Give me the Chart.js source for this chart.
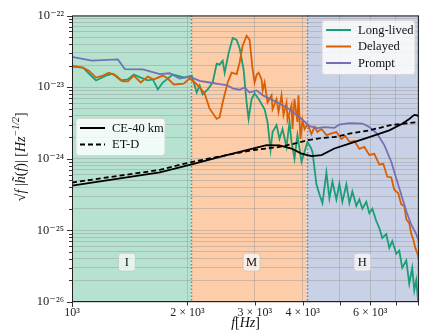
<!DOCTYPE html>
<html>
<head>
<meta charset="utf-8">
<script src="https://cdn.jsdelivr.net/npm/chart.js@4.4.1/dist/chart.umd.min.js"></script>
<style>
  html, body { margin: 0; padding: 0; background: #fff; }
</style>
</head>
<body>
<canvas id="asdChart" width="422" height="331"></canvas>
<script>
// values: frequency [Hz] and sqrt(f)|h(f)| [Hz^-1/2]
const longFreq = [
  1000, 1068, 1114, 1155, 1226, 1279, 1342, 1399,
  1450, 1512, 1577, 1625, 1675, 1726, 1832, 1969,
  2054, 2116, 2154, 2193, 2261, 2329, 2386, 2428,
  2473, 2503, 2564, 2627, 2690, 2738, 2805, 2856,
  2890, 2943, 2996, 3087, 3182, 3239, 3298, 3338,
  3419, 3480, 3544, 3630, 3696, 3741, 3808, 3877,
  3972, 4045, 4118, 4192, 4243, 4345, 4424, 4505,
  4614, 4698, 4783, 4899, 4988, 5078, 5202, 5297,
  5392, 5523, 5623, 5727, 5864, 5971, 6080, 6227,
  6340, 6455, 6611, 6732, 6854, 7022, 7148, 7278,
  7456, 7590, 7727, 7823, 7916, 8010, 8050
];
const longAmp = [
  1.93e-23, 1.87e-23, 1.50e-23, 1.24e-23, 1.45e-23, 1.54e-23, 1.24e-23, 1.28e-23,
  1.50e-23, 1.36e-23, 1.24e-23, 1.28e-23, 9.3e-24, 1.16e-23, 1.50e-23, 1.36e-23,
  1.45e-23, 8.4e-24, 1.05e-23, 7.9e-24, 9.3e-24, 1.16e-23, 2.13e-23, 2.06e-23,
  2.34e-23, 1.59e-23, 3.01e-23, 4.86e-23, 4.56e-23, 3.53e-23, 1.75e-23, 6.1e-24,
  3.6e-24, 6.8e-24, 8.2e-24, 6.5e-24, 4.9e-24, 3.25e-24, 1.33e-24, 2.36e-24,
  2.95e-24, 1.89e-24, 2.6e-24, 1.46e-24, 3.25e-24, 1.72e-24, 1.0e-24, 2.14e-24,
  9.1e-25, 1.25e-24, 1.72e-24, 1.46e-24, 1.25e-24, 4.4e-25, 3.2e-25, 2.4e-25,
  6.4e-25, 2.8e-25, 4.8e-25, 2.7e-25, 4.5e-25, 2.5e-25, 4.4e-25, 2.4e-25,
  3.5e-25, 2.2e-25, 2.7e-25, 2.0e-25, 2.5e-25, 1.74e-25, 2.0e-25, 1.35e-25,
  1.08e-25, 7.8e-26, 8.9e-26, 5.7e-26, 7.1e-26, 4.7e-26, 5.2e-26, 3.0e-26,
  3.8e-26, 1.8e-26, 3.0e-26, 1.45e-26, 2.0e-26, 1.0e-26, 1.7e-26
];

const delayedFreq = [
  1000, 1068, 1107, 1155, 1204, 1248, 1302, 1358,
  1399, 1450, 1512, 1577, 1635, 1726, 1778, 1843,
  1957, 2028, 2091, 2154, 2220, 2287, 2386, 2428,
  2473, 2549, 2610, 2690, 2738, 2788, 2856, 2907,
  2961, 2996, 3035, 3069, 3125, 3145, 3182, 3239,
  3318, 3338, 3419, 3460, 3523, 3565, 3630, 3652,
  3741, 3763, 3808, 3877, 3900, 3947, 3995, 4045,
  4118, 4217, 4295, 4372, 4478, 4614, 4783, 4899,
  5048, 5171, 5297, 5458, 5623, 5795, 5971, 6152,
  6340, 6494, 6651, 6813, 6936, 7105, 7235, 7366,
  7456, 7590, 7684, 7777, 7870, 7962, 8050
];
const delayedAmp = [
  1.99e-23, 1.87e-23, 1.70e-23, 1.36e-23, 1.45e-23, 1.59e-23, 1.45e-23, 1.20e-23,
  1.20e-23, 1.45e-23, 1.16e-23, 1.40e-23, 1.28e-23, 1.45e-23, 1.32e-23, 1.09e-23,
  1.12e-23, 1.32e-23, 1.16e-23, 9.9e-24, 8.1e-24, 5.0e-24, 3.6e-24, 3.8e-24,
  6.1e-24, 1.16e-23, 1.59e-23, 1.52e-23, 2.19e-23, 3.76e-23, 5.2e-23, 4.6e-23,
  1.77e-23, 1.16e-23, 1.50e-23, 1.59e-23, 1.28e-23, 9.0e-24, 1.16e-23, 6.1e-24,
  7.7e-24, 4.9e-24, 6.8e-24, 4.5e-24, 7.7e-24, 4.1e-24, 6.1e-24, 3.5e-24,
  5.6e-24, 2.6e-24, 6.8e-24, 3.25e-24, 7.7e-24, 1.89e-24, 3.46e-24, 2.6e-24,
  3.05e-24, 2.21e-24, 2.77e-24, 2.36e-24, 2.6e-24, 2.14e-24, 2.28e-24, 2.36e-24,
  1.89e-24, 2.08e-24, 1.72e-24, 1.77e-24, 1.37e-24, 1.46e-24, 1.13e-24, 1.17e-24,
  8.3e-25, 8.5e-25, 5.6e-25, 5.5e-25, 3.7e-25, 3.3e-25, 2.3e-25, 2.2e-25,
  1.43e-25, 1.26e-25, 8.9e-26, 7.5e-26, 5.7e-26, 4.9e-26, 3.8e-26
];

const promptFreq = [
  1000, 1126, 1318, 1374, 1531, 1695, 1799, 1910,
  2028, 2154, 2287, 2428, 2533, 2627, 2738, 2822,
  2907, 3032, 3145, 3278, 3480, 3696, 3854, 3995,
  4167, 4372, 4559, 4841, 4988, 5297, 5727, 5971,
  6264, 6533, 6813, 7022, 7235, 7456, 7684, 7916, 8050
];
const promptAmp = [
  2.65e-23, 2.34e-23, 2.44e-23, 1.78e-23, 1.77e-23, 1.52e-23, 1.56e-23, 1.32e-23,
  1.40e-23, 1.22e-23, 1.16e-23, 1.10e-23, 1.07e-23, 9.6e-24, 9.2e-24, 9.9e-24,
  8.4e-24, 9.0e-24, 7.7e-24, 6.9e-24, 5.9e-24, 4.9e-24, 4.1e-24, 3.5e-24,
  2.86e-24, 2.68e-24, 2.77e-24, 2.7e-24, 3.0e-24, 3.15e-24, 3.1e-24, 2.77e-24,
  2.22e-24, 1.55e-24, 9.1e-25, 5.3e-25, 3.15e-25, 1.85e-25, 1.2e-25, 8.9e-26, 6.9e-26
];

// detector sensitivity curves
const ceFreq = [1000, 1695, 2028, 2533, 2961, 3220, 3480, 3741, 3972, 4217,
  4478, 4841, 5297, 5971, 6732, 7278, 7590, 7823, 7962, 8050];
const ceAmp = [4.2e-25, 6.47e-25, 8.18e-25, 1.125e-24, 1.39e-24, 1.55e-24, 1.54e-24, 1.39e-24, 1.18e-24, 1.09e-24,
  1.125e-24, 1.39e-24, 1.63e-24, 2.01e-24, 2.49e-24, 3.08e-24, 3.6e-24, 4.1e-24, 4.05e-24, 3.8e-24];
const etFreq = [1000, 1695, 2028, 2533, 2961, 3480, 3808, 4118, 4478, 4841, 5297, 5971, 6732, 7278, 8050];
const etAmp = [4.66e-25, 6.98e-25, 8.89e-25, 1.125e-24, 1.32e-24, 1.46e-24, 1.63e-24, 1.81e-24,
  1.95e-24, 2.01e-24, 2.24e-24, 2.49e-24, 2.92e-24, 3.08e-24, 3.25e-24];

// frequency bands (edges in Hz)
const bandEdges = [1000, 2048, 4096, 8050];
const bandNames = ['I', 'M', 'H'];

// ticks
const xTickValues = [1000, 2000, 3000, 4000, 5000, 6000, 7000, 8000];
const xTickLabels = ['10³', '2 × 10³', '3 × 10³', '4 × 10³', '', '6 × 10³', '', ''];
const yMajorTicks = [1e-26, 1e-25, 1e-24, 1e-23, 1e-22];
const yMajorLabels = ['10⁻²⁶', '10⁻²⁵', '10⁻²⁴', '10⁻²³', '10⁻²²'];

const serif = "'Liberation Serif', 'DejaVu Serif', serif";
const bandColors = ['#b5e3cf', '#fdcca8', '#c9d1e6'];
const bandLabelFreq = [1391, 2943, 5727];

const pts = (fs, as) => fs.map((f, i) => ({ x: f, y: as[i] }));
const isDecade = v => Math.abs(Math.log10(v) - Math.round(Math.log10(v))) < 1e-6;

function drawPieces(ctx, pieces, cx, cy) {
  let w = 0;
  pieces.forEach(p => { ctx.font = p.font; w += ctx.measureText(p.t).width; });
  let x = cx - w / 2;
  pieces.forEach(p => {
    ctx.font = p.font;
    ctx.fillText(p.t, x, cy + (p.dy || 0));
    x += ctx.measureText(p.t).width;
  });
}

function legendBox(ctx, x, y, w, h, rows) {
  ctx.save();
  ctx.beginPath();
  ctx.roundRect(x, y, w, h, 3);
  ctx.fillStyle = 'rgba(255,255,255,0.8)';
  ctx.fill();
  ctx.strokeStyle = '#d6d6d6';
  ctx.lineWidth = 1;
  ctx.stroke();
  rows.forEach((r, i) => {
    const ry = y + 9.5 + i * 16.5;
    ctx.beginPath();
    ctx.setLineDash(r.dash || []);
    ctx.strokeStyle = r.color;
    ctx.lineWidth = 2;
    ctx.moveTo(x + 4, ry);
    ctx.lineTo(x + 29, ry);
    ctx.stroke();
    ctx.setLineDash([]);
    ctx.fillStyle = '#111';
    ctx.font = '12.5px ' + serif;
    ctx.textBaseline = 'middle';
    ctx.fillText(r.label, x + 36, ry + 0.5);
  });
  ctx.restore();
}

const decor = {
  id: 'decor',
  beforeDraw(chart) {
    const { ctx, chartArea: a, scales: { x } } = chart;
    ctx.save();
    ctx.fillStyle = '#fff';
    ctx.fillRect(0, 0, chart.width, chart.height);
    for (let i = 0; i < bandNames.length; i++) {
      const x0 = Math.max(a.left, x.getPixelForValue(bandEdges[i]));
      const x1 = Math.min(a.right, x.getPixelForValue(bandEdges[i + 1]));
      ctx.fillStyle = bandColors[i];
      ctx.fillRect(x0, a.top, x1 - x0, a.bottom - a.top);
    }
    ctx.restore();
  },
  beforeDatasetsDraw(chart) {
    const { ctx, chartArea: a, scales: { x } } = chart;
    ctx.save();
    ctx.strokeStyle = '#808080';
    ctx.lineWidth = 1.5;
    ctx.setLineDash([1.5, 2]);
    [bandEdges[1], bandEdges[2]].forEach(f => {
      const px = Math.round(x.getPixelForValue(f)) + 0.5;
      ctx.beginPath();
      ctx.moveTo(px, a.top);
      ctx.lineTo(px, a.bottom);
      ctx.stroke();
    });
    ctx.restore();
  },
  afterDraw(chart) {
    const { ctx, chartArea: a, scales: { x, y } } = chart;
    ctx.save();
    // band labels
    bandNames.forEach((n, i) => {
      const px = x.getPixelForValue(bandLabelFreq[i]);
      const py = y.getPixelForValue(3.6e-26);
      ctx.beginPath();
      ctx.roundRect(px - 8.5, py - 9, 17, 18, 3);
      ctx.fillStyle = 'rgba(255,255,255,0.65)';
      ctx.fill();
      ctx.strokeStyle = 'rgba(200,200,200,0.9)';
      ctx.lineWidth = 1;
      ctx.stroke();
      ctx.fillStyle = '#111';
      ctx.font = '12.5px ' + serif;
      ctx.textAlign = 'center';
      ctx.textBaseline = 'middle';
      ctx.fillText(n, px, py + 0.5);
    });
    ctx.restore();

    // frame
    ctx.save();
    ctx.strokeStyle = '#222';
    ctx.lineWidth = 1;
    ctx.strokeRect(a.left + 0.5, a.top + 0.5, a.right - a.left - 1, a.bottom - a.top - 1);
    // tick marks
    ctx.strokeStyle = '#333';
    y.ticks.forEach(t => {
      const py = Math.round(y.getPixelForValue(t.value)) + 0.5;
      const len = isDecade(t.value) ? 5 : 3;
      ctx.beginPath();
      ctx.moveTo(a.left - len, py);
      ctx.lineTo(a.left, py);
      ctx.stroke();
    });
    x.ticks.forEach(t => {
      const px = Math.round(x.getPixelForValue(t.value)) + 0.5;
      const len = t.value === 1000 ? 5 : 3.5;
      ctx.beginPath();
      ctx.moveTo(px, a.bottom);
      ctx.lineTo(px, a.bottom + len);
      ctx.stroke();
    });
    ctx.restore();

    // legends
    legendBox(ctx, a.right - 97, a.top + 5, 93, 54, [
      { label: 'Long-lived', color: '#1b9e77' },
      { label: 'Delayed', color: '#d95f02' },
      { label: 'Prompt', color: '#7570b3' }
    ]);
    legendBox(ctx, a.left + 4, a.top + 103, 89, 37, [
      { label: 'CE-40 km', color: '#000' },
      { label: 'ET-D', color: '#000', dash: [5, 3] }
    ]);

    // axis titles
    ctx.save();
    ctx.fillStyle = '#111';
    ctx.textBaseline = 'middle';
    const it = 'italic 14px ' + serif;
    const up = '14px ' + serif;
    drawPieces(ctx, [
      { t: 'f', font: it }, { t: '[', font: up }, { t: 'Hz', font: it }, { t: ']', font: up }
    ], (a.left + a.right) / 2, 323);
    ctx.translate(21, (a.top + a.bottom) / 2 - 2);
    ctx.rotate(-Math.PI / 2);
    drawPieces(ctx, [
      { t: '√', font: up }, { t: 'f', font: it }, { t: ' |', font: up },
      { t: 'h̃', font: it }, { t: '(', font: up }, { t: 'f', font: it },
      { t: ')| [', font: up }, { t: 'Hz', font: it },
      { t: '−1/2', font: 'italic 10px ' + serif, dy: -5 }, { t: ']', font: up }
    ], 0, 0);
    ctx.restore();
  }
};

const ctx = document.getElementById('asdChart').getContext('2d');

new Chart(ctx, {
  type: 'line',
  data: {
    datasets: [
      { label: 'Long-lived', data: pts(longFreq, longAmp), borderColor: '#1b9e77', borderWidth: 1.8, order: 4 },
      { label: 'Delayed', data: pts(delayedFreq, delayedAmp), borderColor: '#d95f02', borderWidth: 1.8, order: 3 },
      { label: 'Prompt', data: pts(promptFreq, promptAmp), borderColor: '#7570b3', borderWidth: 1.8, order: 2 },
      { label: 'CE-40 km', data: pts(ceFreq, ceAmp), borderColor: '#000', borderWidth: 1.8, order: 0 },
      { label: 'ET-D', data: pts(etFreq, etAmp), borderColor: '#000', borderWidth: 1.8, borderDash: [5, 3], order: 1 }
    ]
  },
  options: {
    responsive: false,
    animation: false,
    devicePixelRatio: 1,
    layout: { padding: { left: 0, right: 2, top: 12, bottom: 0 } },
    elements: { point: { radius: 0 }, line: { tension: 0, fill: false } },
    plugins: { legend: { display: false }, tooltip: { enabled: false } },
    scales: {
      x: {
        type: 'logarithmic',
        min: 1000,
        max: 8050,
        afterBuildTicks: s => { s.ticks = xTickValues.map(v => ({ value: v })); },
        afterFit: s => { s.height = 29; },
        grid: { color: 'rgba(150,150,150,0.45)', lineWidth: 1, drawTicks: false },
        border: { display: false },
        ticks: {
          autoSkip: false,
          maxRotation: 0,
          padding: 4,
          color: '#222',
          font: { family: serif, size: 12 },
          callback: (v) => xTickLabels[xTickValues.indexOf(v)] || ''
        }
      },
      y: {
        type: 'logarithmic',
        min: 1e-26,
        max: 1e-22,
        afterBuildTicks: s => {
          const t = [];
          for (let e = -26; e < -22; e++) {
            for (let m = 1; m < 10; m++) t.push({ value: m * Math.pow(10, e) });
          }
          t.push({ value: 1e-22 });
          s.ticks = t;
        },
        afterFit: s => { s.width = 72; },
        grid: { color: 'rgba(150,150,150,0.45)', lineWidth: 1, drawTicks: false },
        border: { display: false },
        ticks: {
          autoSkip: false,
          padding: 8,
          color: '#222',
          font: { family: serif, size: 12.5 },
          callback: (v) => {
            if (!isDecade(v)) return '';
            const i = yMajorTicks.findIndex(m => Math.abs(Math.log10(m) - Math.log10(v)) < 1e-6);
            return i >= 0 ? yMajorLabels[i] : '';
          }
        }
      }
    }
  },
  plugins: [decor]
});
</script>
</body>
</html>
